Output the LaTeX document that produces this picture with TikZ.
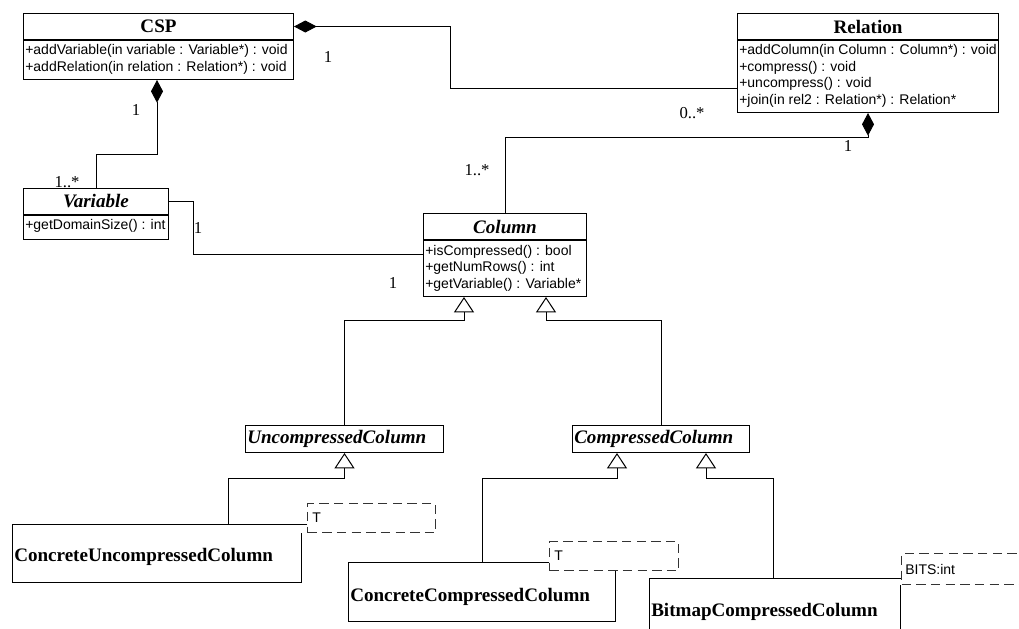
\documentclass[tikz,border=0pt]{standalone}
\usepackage{fontspec}
\setmainfont{Liberation Serif}
\setsansfont{Liberation Sans}
\usetikzlibrary{arrows.meta,calc}
\def\px{0.75pt}
\begin{document}
\begin{tikzpicture}[x=0.75pt,y=-0.75pt,
  box/.style={draw, line width=0.75pt, inner sep=0pt, anchor=north west},
  ttl/.style={font=\fontsize{14.3}{16}\selectfont\bfseries},
  ittl/.style={font=\fontsize{14.3}{16}\selectfont\bfseries\itshape},
  lbl/.style={inner sep=0pt, anchor=west},
  meth/.style={font=\sffamily\fontsize{10.5}{12.4}\selectfont, align=left, inner sep=0pt, anchor=north west},
  tfont/.style={font=\sffamily\fontsize{10.5}{12}\selectfont},
  mult/.style={font=\fontsize{12.5}{14}\selectfont, inner sep=0pt},
  conn/.style={line width=0.75pt},
  comp/.style={conn, {Diamond[length=17pt,width=9pt,fill=black]}-},
  gen/.style={conn, -{Triangle[open,length=11.5pt,width=15pt,fill=white]}},
  tmpl/.style={draw, dash pattern=on 7pt off 4pt, line width=0.75pt, fill=white, inner sep=0pt, anchor=north west, draw=black!80},
]
\useasboundingbox (0,0) rectangle (1019,628);
\fill[white] (0,0) rectangle (1019,628);
\clip (0,0) rectangle (1019,628);

% CSP
\node[box, ttl, minimum width=270*\px, minimum height=26*\px] (csp) at (23,13) {CSP};
\node[box, minimum width=270*\px, minimum height=39*\px] (cspb) at (csp.south west) {};
\node[meth] (cspm) at ($(cspb.north west)+(2,4.5)$) {+addVariable(in variable : Variable*) : void\\+addRelation(in relation : Relation*) : void};

% Relation
\node[box, ttl, minimum width=261*\px, minimum height=26*\px] (rel) at (737,13) {Relation};
\node[box, minimum width=261*\px, minimum height=72*\px] (relb) at (rel.south west) {};
\node[meth] (relm) at ($(relb.north west)+(2,4.5)$) {+addColumn(in Column : Column*) : void\\+compress() : void\\+uncompress() : void\\+join(in rel2 : Relation*) : Relation*};

% Variable
\node[box, ittl, minimum width=145*\px, minimum height=26*\px] (var) at (23,188) {Variable};
\node[box, minimum width=145*\px, minimum height=24*\px] (varb) at (var.south west) {};
\node[meth] (varm) at ($(varb.north west)+(2,4)$) {+getDomainSize() : int};

% Column
\node[box, ittl, minimum width=163*\px, minimum height=26*\px] (col) at (423,213) {Column};
\node[box, minimum width=163*\px, minimum height=56*\px] (colb) at (col.south west) {};
\node[meth] (colm) at ($(colb.north west)+(2,5)$) {+isCompressed() : bool\\+getNumRows() : int\\+getVariable() : Variable*};

% Abstract subclasses
\node[box, minimum width=198*\px, minimum height=27*\px] (unc) at (245,425) {};
\node[lbl, ittl] (unct) at ($(unc.west)+(2,0)$) {UncompressedColumn};
\node[box, minimum width=177*\px, minimum height=27*\px] (cmp) at (572,425) {};
\node[lbl, ittl] (cmpt) at ($(cmp.west)+(2,0)$) {CompressedColumn};

% Concrete classes (outline only)
\node[box, draw=none, minimum width=288*\px, minimum height=57*\px] (cuc) at (12,524) {};
\node[tmpl, minimum width=128*\px, minimum height=29*\px] (ctu) at (307,503) {};
\node[lbl, tfont] (ctut) at ($(ctu.west)+(5,0)$) {T};
\draw[conn] (ctu.west |- cuc.north) -- (cuc.north west) -- (cuc.south west) -- (cuc.south east) -- (cuc.east |- ctu.south);
\node[lbl, ttl] (cuct) at (14,557) {ConcreteUncompressedColumn};

\node[box, draw=none, minimum width=266*\px, minimum height=58*\px] (ccc) at (348,562) {};
\node[tmpl, minimum width=129*\px, minimum height=29*\px] (ctc) at (549,541) {};
\node[lbl, tfont] (ctct) at ($(ctc.west)+(5,0)$) {T};
\draw[conn] (ctc.west |- ccc.north) -- (ccc.north west) -- (ccc.south west) -- (ccc.south east) -- (ccc.east |- ctc.south);
\node[lbl, ttl] (ccct) at (350,597) {ConcreteCompressedColumn};

\node[box, draw=none, minimum width=250*\px, minimum height=70*\px] (bcc) at (649,578) {};
\node[tmpl, minimum width=130*\px, minimum height=31*\px] (bts) at (901,553) {};
\node[lbl, tfont] (btst) at ($(bts.west)+(4,0)$) {BITS:int};
\draw[conn] (bts.west |- bcc.north) -- (bcc.north west) -- (bcc.south west) -- (bcc.south east) -- (bcc.east |- bts.south);
\node[lbl, ttl] (bcct) at (651,612) {BitmapCompressedColumn};

% Compositions / associations
\draw[comp] (csp.east) -- ++(156,0) |- ($(relb.north west)+(0,48)$);
\draw[comp] ($(cspb.south west)+(134,0)$) -- ++(0,74) -| (var.north);
\draw[comp] (relb.south) -- ++(0,24) -| (col.north);
\draw[conn] (var.east) -- ++(24,0) |- ($(colb.north west)+(0,14)$);

% Generalizations
\draw[gen] (unc.north) |- ($(colb.south west)+(41,23)$) -- ($(colb.south west)+(41,0)$);
\draw[gen] (cmp.north) |- ($(colb.south west)+(123,23)$) -- ($(colb.south west)+(123,0)$);
\draw[gen] ($(cuc.north west)+(216,0)$) |- ($(unc.south)+(0,25)$) -- (unc.south);
\draw[gen] ($(ccc.north west)+(134,0)$) |- ($(cmp.south west)+(45,25)$) -- ($(cmp.south west)+(45,0)$);
\draw[gen] ($(bcc.north west)+(124,0)$) |- ($(cmp.south west)+(134,25)$) -- ($(cmp.south west)+(134,0)$);

% Multiplicities
\node[mult] (m1) at (328,57) {1};
\node[mult] (m2) at (692,113) {0..*};
\node[mult] (m3) at (136,110) {1};
\node[mult] (m4) at (67,182) {1..*};
\node[mult] (m5) at (198,228) {1};
\node[mult] (m6) at (393,283) {1};
\node[mult] (m7) at (477,170) {1..*};
\node[mult] (m8) at (848,146) {1};
\end{tikzpicture}
\end{document}
